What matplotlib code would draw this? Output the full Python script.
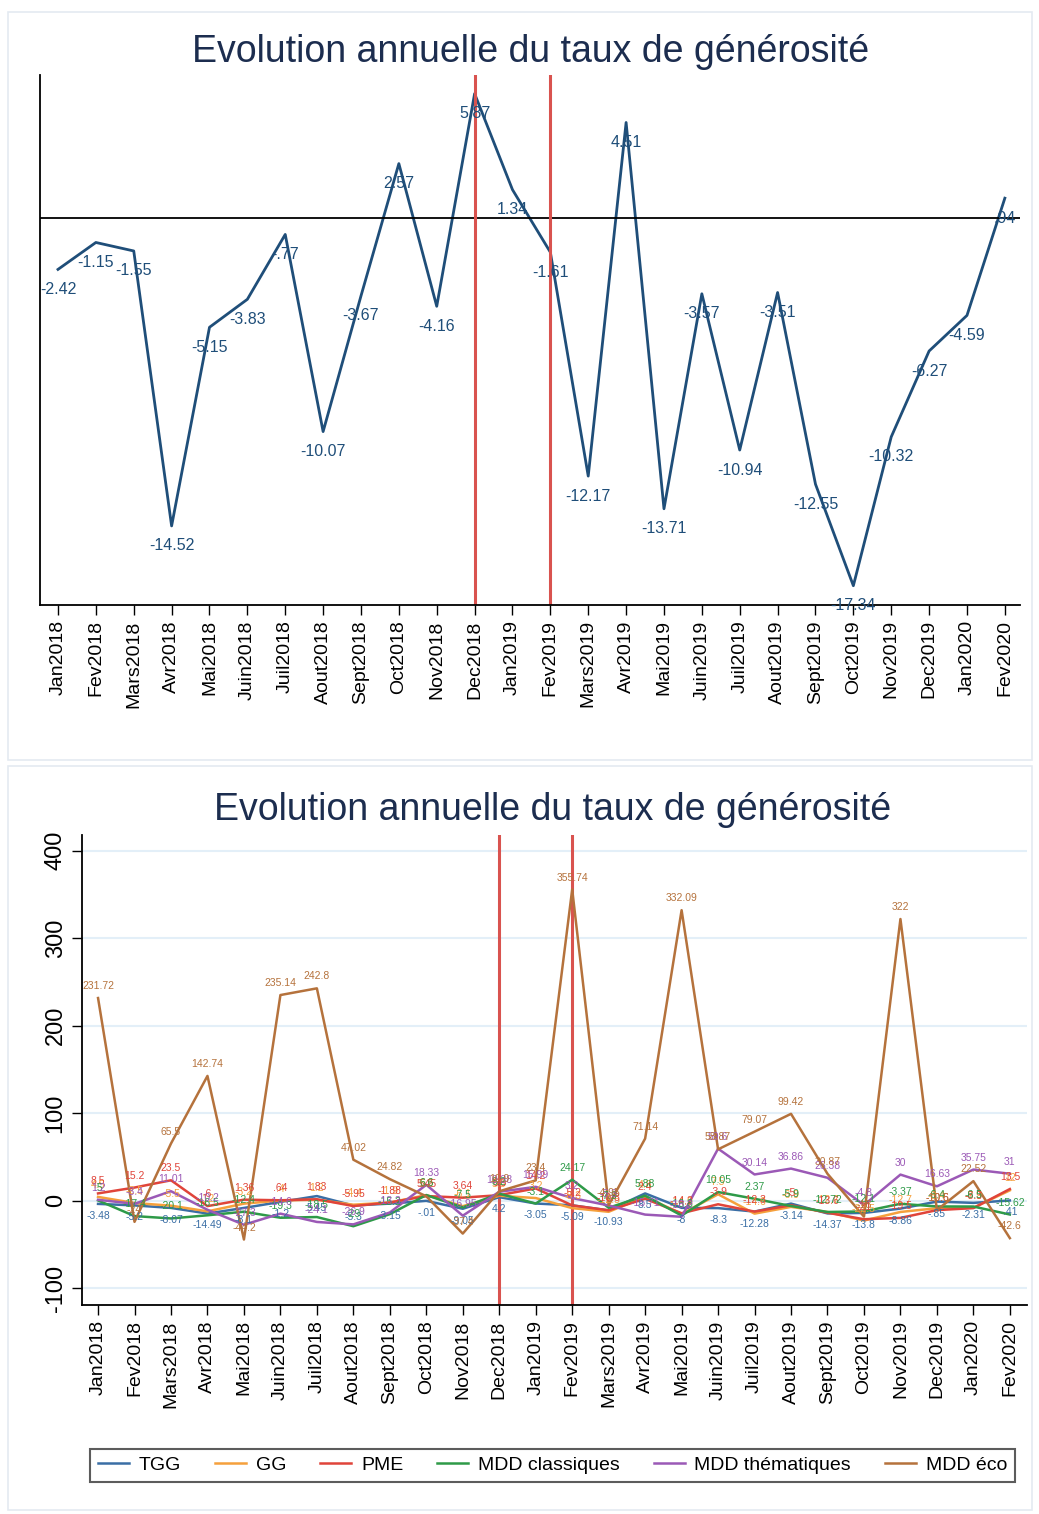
import matplotlib
matplotlib.use("Agg")
from matplotlib import pyplot as plt
from matplotlib.patches import Rectangle
import numpy as np

plt.rcParams['font.family'] = ['Liberation Sans', 'DejaVu Sans']

# Mois (axe x)
mois = ['Jan2018', 'Fev2018', 'Mars2018', 'Avr2018', 'Mai2018', 'Juin2018', 'Juil2018',
        'Aout2018', 'Sept2018', 'Oct2018', 'Nov2018', 'Dec2018', 'Jan2019', 'Fev2019',
        'Mars2019', 'Avr2019', 'Mai2019', 'Juin2019', 'Juil2019', 'Aout2019', 'Sept2019',
        'Oct2019', 'Nov2019', 'Dec2019', 'Jan2020', 'Fev2020']

# Graphique du haut : taux de generosite global
taux = [-2.42, -1.15, -1.55, -14.52, -5.15, -3.83, -0.77, -10.07, -3.67, 2.57, -4.16, 5.87,
        1.34, -1.61, -12.17, 4.51, -13.71, -3.57, -10.94, -3.51, -12.55, -17.34, -10.32,
        -6.27, -4.59, 0.94]

# Graphique du bas : par type de produit
tgg = [-3.48, -5.2, -8.07, -14.49, -8.1, -1.2, 5.45, -5.3, -3.15, -0.01, -9.05, 4.2, -3.05,
       -5.09, -10.93, 8.5, -8, -8.3, -12.28, -3.14, -14.37, -13.8, -8.86, -0.85, -2.31, 0.41]
gg = [4.5, -2.5, -5.5, -12.0, -3.2, 0.4, 1.2, -4.4, -1.9, 6.6, -6.1, 5.8, 3.2, -8.3, -12.5,
      4.8, -14.9, 7.5, -14.6, -6.9, -12.7, -22.5, -12.7, -8.4, -7.9, 12.0]
pme = [8.5, 15.2, 23.5, -6.0, 1.36, 0.64, 1.83, -5.95, -1.88, 5.45, 3.64, 6.5, 14.2, -5.2,
       -10.8, 2.4, -14.2, -3.9, -12.3, -5.0, -13.6, -21.0, -19.5, -10.6, -8.3, 13.5]
mdd_classiques = [0.5, -17.4, -20.1, -16.5, -12.4, -19.3, -18.5, -29.0, -15.2, 6.6, -7.5, 8.2,
                  -3.1, 24.17, -7.9, 5.88, -16.8, 10.05, 2.37, -5.9, -12.72, -12.1, -3.37,
                  -6.4, -6.5, -15.62]
mdd_thematiques = [1.2, -3.4, 11.01, -10.2, -27.3, -14.6, -24.1, -26.9, -13.3, 18.33, -16.95,
                   10.38, 15.99, 3.2, -5.3, -15.71, -18.2, 59.6, 30.14, 36.86, 26.38, -4.8,
                   30.0, 16.63, 35.75, 31.0]
mdd_eco = [231.72, -24.0, 65.5, 142.74, -44.2, 235.14, 242.8, 47.02, 24.82, 5.2, -37.4, 10.9,
           23.4, 355.74, -4.95, 71.14, 332.09, 58.87, 79.07, 99.42, 30.87, -18.0, 322.0,
           -10.5, 22.52, -42.6]

series_noms = ['TGG', 'GG', 'PME', 'MDD classiques', 'MDD thématiques', 'MDD éco']
series = [tgg, gg, pme, mdd_classiques, mdd_thematiques, mdd_eco]
couleurs = ['#3a6ea5', '#f5a03c', '#e0443a', '#2e9a48', '#9b59b6', '#b5723c']

# lignes verticales rouges (Dec2018 et Fev2019)
reperes = [11, 13]

titre = 'Evolution annuelle du taux de générosité'


def fmt(v):
    # format type Stata : -.77 au lieu de -0.77
    s = ('%.2f' % v).rstrip('0').rstrip('.')
    s = s.replace('-0.', '-.')
    if s.startswith('0.'):
        s = s[1:]
    return s


W, H = 1039, 1514
fig = plt.figure(figsize=(W / 100., H / 100.), dpi=100)
fig.patch.set_facecolor('white')

# cadres des deux panneaux
for y0, y1 in [(12, 760), (766, 1510)]:
    fig.add_artist(Rectangle((8 / W, 1 - y1 / H), 1024 / W, (y1 - y0) / H,
                             transform=fig.transFigure, fill=False,
                             edgecolor='#e4eaf1', lw=1.2))

x = np.arange(len(mois))

# ---------------- graphique du haut ----------------
ax1 = fig.add_axes([40 / W, 1 - 605 / H, 980 / W, 530 / H])
ax1.plot(x, taux, color='#1f4e79', lw=2.0)
for i, v in enumerate(taux):
    ax1.annotate(fmt(v), (x[i], v), xytext=(0, -9), textcoords='offset points',
                 ha='center', va='top', fontsize=11.5, color='#1f4e79')
ax1.axhline(0, color='black', lw=1.3)
for r in reperes:
    ax1.axvline(r, color='#d9534f', lw=2.2)
ax1.set_xlim(-0.475, 25.4)
ax1.set_ylim(-18.25, 6.75)
ax1.set_yticks([])
ax1.set_xticks(x)
ax1.set_xticklabels(mois, rotation=90, fontsize=14)
ax1.tick_params(axis='x', length=7, width=1, pad=4)
ax1.spines['top'].set_visible(False)
ax1.spines['right'].set_visible(False)
ax1.spines['left'].set_linewidth(1.3)
ax1.spines['bottom'].set_linewidth(1.3)
fig.text(531 / W, 1 - 52 / H, titre, ha='center', va='center', fontsize=27, color='#1c2d4f')

# ---------------- graphique du bas ----------------
ax2 = fig.add_axes([82 / W, 1 - 1305 / H, 945 / W, 470 / H])
for v in [-100, 0, 100, 200, 300, 400]:
    ax2.axhline(v, color='#e3eff8', lw=1.5, zorder=0)
for r in reperes:
    ax2.axvline(r, color='#d9534f', lw=2.2, zorder=1)
for nom, vals, c in zip(series_noms, series, couleurs):
    ax2.plot(x, vals, color=c, lw=1.8, label=nom, zorder=2)
    for i, v in enumerate(vals):
        if nom == 'TGG':
            ax2.annotate(fmt(v), (x[i], v), xytext=(0, -5), textcoords='offset points',
                         ha='center', va='top', fontsize=7.5, color=c)
        else:
            ax2.annotate(fmt(v), (x[i], v), xytext=(0, 5), textcoords='offset points',
                         ha='center', va='bottom', fontsize=7.5, color=c)
ax2.set_xlim(-0.44, 25.47)
ax2.set_ylim(-119, 418)
ax2.set_yticks([-100, 0, 100, 200, 300, 400])
ax2.set_yticklabels(['-100', '0', '100', '200', '300', '400'], rotation=90, va='center',
                    fontsize=17)
ax2.set_xticks(x)
ax2.set_xticklabels(mois, rotation=90, fontsize=14)
ax2.tick_params(axis='both', length=7, width=1, pad=4)
ax2.spines['top'].set_visible(False)
ax2.spines['right'].set_visible(False)
ax2.spines['left'].set_linewidth(1.3)
ax2.spines['bottom'].set_linewidth(1.3)
fig.text(553 / W, 1 - 810 / H, titre, ha='center', va='center', fontsize=27, color='#1c2d4f')

leg = fig.legend(loc='center', ncol=6, mode='expand',
                 bbox_to_anchor=(90 / W, 1 - 1488 / H, 925 / W, 45 / H),
                 fontsize=14, frameon=True, fancybox=False, handlelength=1.6,
                 handletextpad=0.5, columnspacing=1.0, borderaxespad=0)
leg.get_frame().set_edgecolor('#333333')
leg.get_frame().set_linewidth(1.5)

fig.savefig('out.png', dpi=100)
